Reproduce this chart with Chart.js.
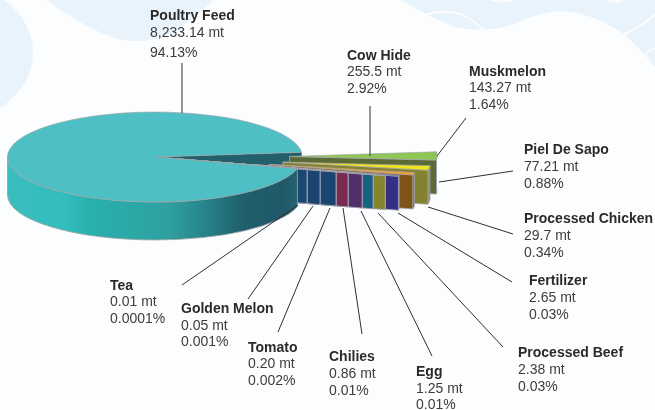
<!DOCTYPE html>
<html>
<head>
<meta charset="utf-8">
<style>html,body{margin:0;padding:0;background:#fbfdff}canvas{display:block}</style>
<script src="https://cdn.jsdelivr.net/npm/chart.js@4"></script>
</head>
<body>
<canvas id="c" width="655" height="410"></canvas>
<script>
// ---- data ----
const categories = ['Poultry Feed','Cow Hide','Muskmelon','Piel De Sapo','Processed Chicken','Fertilizer','Processed Beef','Egg','Chilies','Tomato','Golden Melon','Tea'];
const tonnes = [8233.14,255.5,143.27,77.21,29.7,2.65,2.38,1.25,0.86,0.20,0.05,0.01];
const tonneLabels = ['8,233.14 mt','255.5 mt','143.27 mt','77.21 mt','29.7 mt','2.65 mt','2.38 mt','1.25 mt','0.86 mt','0.20 mt','0.05 mt','0.01 mt'];
const shareLabels = ['94.13%','2.92%','1.64%','0.88%','0.34%','0.03%','0.03%','0.01%','0.01%','0.002%','0.001%','0.0001%'];

// ---- styling ----
const topColors  = ['#4dbfc5','#8dc655','#f0e41e','#f5a027','#4a4ab8','#b0ae40','#2a8fb0','#74479a','#a83c74','#245f98','#245f98','#245f98'];
const wallColors = ['#24606c','#5b6b38','#83822f','#7e5519','#352f85','#86852f','#17627f','#512f69','#7b2a53','#194570','#194570','#1b4872'];
const explode    = [0,134.5,129,117,104,90.8,78.3,67,52.4,40,23.4,10];
const SQUISH = 0.305, POULTRY_DEPTH = 38, SLICE_DEPTH = 34, TILT = -6;
// text block: x, and the centre y of each of the three lines
const labelBoxes = [[150,16,33,53],[347,56,72,89],[469,72,88,105],[524,150,167,184],[524,219,236,253],[529,281,298,315],[518,353,370,387],[416,372,389,405],[329,357,374,391],[248,348,364,381],[181,309,326,342],[110,286,302,319]];
const leaders = [[182,63,182,113],[370,106,370,156],[466,118,437,156],[513,171,439,182],[513,234,428,207],[512,282,398,213],[503,347,378,213],[432,356,361,211],[362,334,343,208],[278,332,330,208],[248,299,313,206],[182,285,298,205]];
const backdrop = [
  'M0,0 L4,0 Q33,22 33,53 Q33,85 0,108 Z',
  'M47,0 Q80,25 107,35 Q137,47 167,35 Q185,27 213,0 Z',
  'M402,0 Q425,15 455,27 Q483,33 512,25 Q538,13 558,11 Q592,12 622,33 Q640,47 655,67 L655,0 Z'
];

const pie3d = {
  id:'pie3d',
  beforeDraw(chart){
    const g = chart.ctx;
    g.save(); g.fillStyle='#fbfdff'; g.fillRect(0,0,655,410);
    g.fillStyle='#e8f3fb';
    backdrop.forEach(d=>g.fill(new Path2D(d)));
    g.strokeStyle='#fbfdff'; g.lineWidth=2; g.lineCap='round';
    g.stroke(new Path2D('M425,15 Q445,8 465,16 Q472,20 483,29'));
    g.stroke(new Path2D('M622,35 Q640,28 655,15'));
    g.stroke(new Path2D('M645,55 Q650,50 655,48'));
    g.stroke(new Path2D('M492,0 Q503,3 512,0'));
    g.stroke(new Path2D('M608,0 Q618,3 622,0'));
    g.restore();
  },
  beforeDatasetDraw(chart){
    const g = chart.ctx, arcs = chart.getDatasetMeta(0).data;
    const centre = i => {
      const a = arcs[i], mid = (a.startAngle+a.endAngle)/2;
      return [a.x + explode[i]*Math.cos(mid), a.y + SQUISH*explode[i]*Math.sin(mid)];
    };
    const at = (i,th) => { const [x,y]=centre(i), R=arcs[i].outerRadius; return [x+R*Math.cos(th), y+SQUISH*R*Math.sin(th)]; };
    const rimPath = (i,a,b,d) => {
      const [x,y]=centre(i), R=arcs[i].outerRadius;
      g.beginPath();
      g.ellipse(x,y,R,R*SQUISH,0,a,b,false);
      g.ellipse(x,y+d,R,R*SQUISH,0,b,a,true);
      g.closePath();
    };
    const facePath = (i,th,d) => {
      const [x,y]=centre(i), [px,py]=at(i,th);
      g.beginPath(); g.moveTo(x,y); g.lineTo(px,py); g.lineTo(px,py+d); g.lineTo(x,y+d); g.closePath();
    };
    const top = i => {
      const a=arcs[i], [x,y]=centre(i);
      g.save();
      g.translate(x,y); g.scale(1,SQUISH); g.translate(-a.x,-a.y);
      a.draw(g);
      g.restore();
    };
    g.save();
    g.lineWidth=0.8; g.lineJoin='round';
    // the face exposed where the small slices were pulled out of the big one
    g.fillStyle=wallColors[0]; facePath(0,arcs[0].endAngle,POULTRY_DEPTH); g.fill();
    // small slices, farthest first
    for(let i=1;i<arcs.length;i++){
      const a=arcs[i];
      g.fillStyle=wallColors[i]; g.strokeStyle='#a9a9b8';
      rimPath(i,a.startAngle,a.endAngle,SLICE_DEPTH); g.fill(); g.stroke();
      facePath(i,a.endAngle,SLICE_DEPTH); g.fill(); g.stroke();
      top(i);
    }
    // big slice: outer wall then top
    const p=arcs[0];
    const grad=g.createLinearGradient(p.x-p.outerRadius,0,p.x+p.outerRadius,0);
    [[0,'#3cbdc0'],[0.2,'#33bcbd'],[0.28,'#27b1ad'],[0.55,'#2f9fa0'],[0.66,'#27868c'],[0.8,'#1f5f6b'],[0.93,'#21586a'],[1,'#256570']]
      .forEach(s=>grad.addColorStop(s[0],s[1]));
    g.fillStyle=grad; g.strokeStyle='#a5a5a5';
    rimPath(0,p.startAngle,Math.PI,POULTRY_DEPTH); g.fill(); g.stroke();
    const left=at(0,Math.PI);
    g.beginPath(); g.moveTo(left[0],left[1]); g.lineTo(left[0],left[1]+POULTRY_DEPTH); g.stroke();
    top(0);
    g.restore();
    return false;
  },
  afterDraw(chart){
    const g=chart.ctx;
    g.save();
    g.strokeStyle='#2f2f2f'; g.lineWidth=1;
    leaders.forEach(l=>{ g.beginPath(); g.moveTo(l[0],l[1]); g.lineTo(l[2],l[3]); g.stroke(); });
    g.textBaseline='middle'; g.textAlign='left';
    categories.forEach((name,i)=>{
      const b=labelBoxes[i];
      g.font='bold 14px "Liberation Sans", Arial, sans-serif'; g.fillStyle='#2a2a2a';
      g.fillText(name,b[0],b[1]);
      g.font='14px "Liberation Sans", Arial, sans-serif'; g.fillStyle='#3c3c3c';
      g.fillText(tonneLabels[i],b[0],b[2]);
      g.fillText(shareLabels[i],b[0],b[3]);
    });
    g.restore();
  }
};

const share = tonnes.slice(1).reduce((s,v)=>s+v,0)/tonnes.reduce((s,v)=>s+v,0);
new Chart(document.getElementById('c'),{
  type:'pie',
  data:{labels:categories,datasets:[{label:'Volume (mt)',data:tonnes,backgroundColor:topColors,borderColor:'#a5a5a5',borderWidth:1,radius:147.5}]},
  options:{
    responsive:false,animation:false,events:[],
    rotation:90+360*share+TILT,
    layout:{padding:{left:0,top:0,right:345,bottom:96}},
    plugins:{legend:{display:false},tooltip:{enabled:false}}
  },
  plugins:[pie3d]
});
</script>
</body>
</html>
